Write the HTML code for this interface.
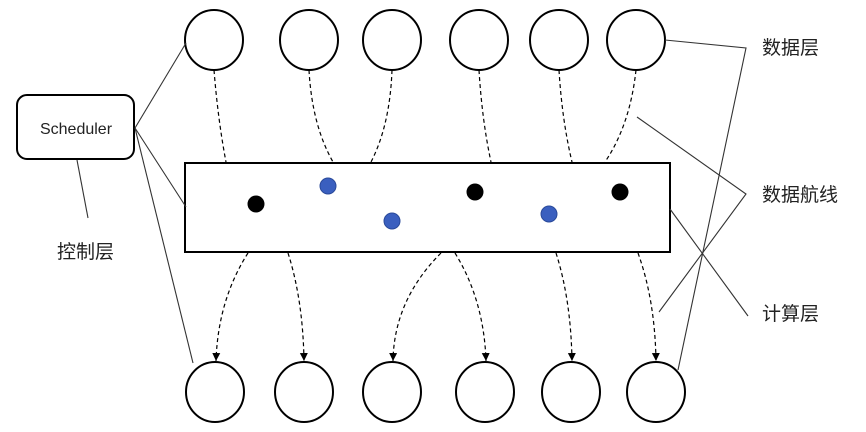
<!DOCTYPE html>
<html><head><meta charset="utf-8"><style>
html,body{margin:0;padding:0;background:#fff;width:866px;height:432px;overflow:hidden}
svg{display:block}
text{font-family:"Liberation Sans","Noto Sans CJK SC",sans-serif;fill:#222}
</style></head><body>
<svg width="866" height="432" viewBox="0 0 866 432" xmlns="http://www.w3.org/2000/svg">
<defs><marker id="a" markerWidth="9" markerHeight="9" refX="8" refY="4" orient="auto" markerUnits="userSpaceOnUse"><path d="M0,0 L8,4 L0,8 Z" fill="#000"/></marker></defs>
<g fill="#fff" stroke="#000" stroke-width="2">
<ellipse cx="214" cy="40" rx="29" ry="30"/><ellipse cx="309" cy="40" rx="29" ry="30"/><ellipse cx="392" cy="40" rx="29" ry="30"/>
<ellipse cx="479" cy="40" rx="29" ry="30"/><ellipse cx="559" cy="40" rx="29" ry="30"/><ellipse cx="636" cy="40" rx="29" ry="30"/>
<ellipse cx="215" cy="392" rx="29" ry="30"/><ellipse cx="304" cy="392" rx="29" ry="30"/><ellipse cx="392" cy="392" rx="29" ry="30"/>
<ellipse cx="485" cy="392" rx="29" ry="30"/><ellipse cx="571" cy="392" rx="29" ry="30"/><ellipse cx="656" cy="392" rx="29" ry="30"/>
<rect x="185" y="163" width="485" height="89"/>
<rect x="17" y="95" width="117" height="64" rx="10"/>
</g>
<text x="76" y="134" font-size="16" text-anchor="middle">Scheduler</text>
<g fill="#000"><circle cx="256" cy="204" r="8.5"/><circle cx="475" cy="192" r="8.5"/><circle cx="620" cy="192" r="8.5"/></g>
<g fill="#3a5fbf" stroke="#2a4a9a"><circle cx="328" cy="186" r="8"/><circle cx="392" cy="221" r="8"/><circle cx="549" cy="214" r="8"/></g>
<g stroke="#000" stroke-width="1.2" fill="none" stroke-dasharray="4,3">
<path d="M214,70 Q218,120 226,162"/>
<path d="M309,70 Q312,125 333,162"/>
<path d="M392,70 Q390,125 371,162"/>
<path d="M479,70 Q482,120 491,162"/>
<path d="M559,70 Q562,120 572,162"/>
<path d="M636,70 Q630,125 605,162"/>
<path d="M248,253 Q218,300 216,361" marker-end="url(#a)"/>
<path d="M288,253 Q303,300 304,361" marker-end="url(#a)"/>
<path d="M441,253 Q394,300 393,361" marker-end="url(#a)"/>
<path d="M455,253 Q484,300 486,361" marker-end="url(#a)"/>
<path d="M556,253 Q571,300 572,361" marker-end="url(#a)"/>
<path d="M638,253 Q655,300 656,361" marker-end="url(#a)"/>
</g>
<g stroke="#333" stroke-width="1.1" fill="none">
<path d="M135,128 L186,43"/><path d="M135,128 L186,207"/><path d="M135,128 L193,363"/>
<path d="M77,160 L88,218"/>
<path d="M665,40 L746,48 L678,370"/>
<path d="M637,117 L746,194 L659,312"/>
<path d="M670,209 L748,316"/>
</g>
<g font-size="19">
<text x="57" y="258">控制层</text>
<text x="762" y="54">数据层</text>
<text x="762" y="201">数据航线</text>
<text x="762" y="320">计算层</text>
</g>
</svg>
</body></html>
